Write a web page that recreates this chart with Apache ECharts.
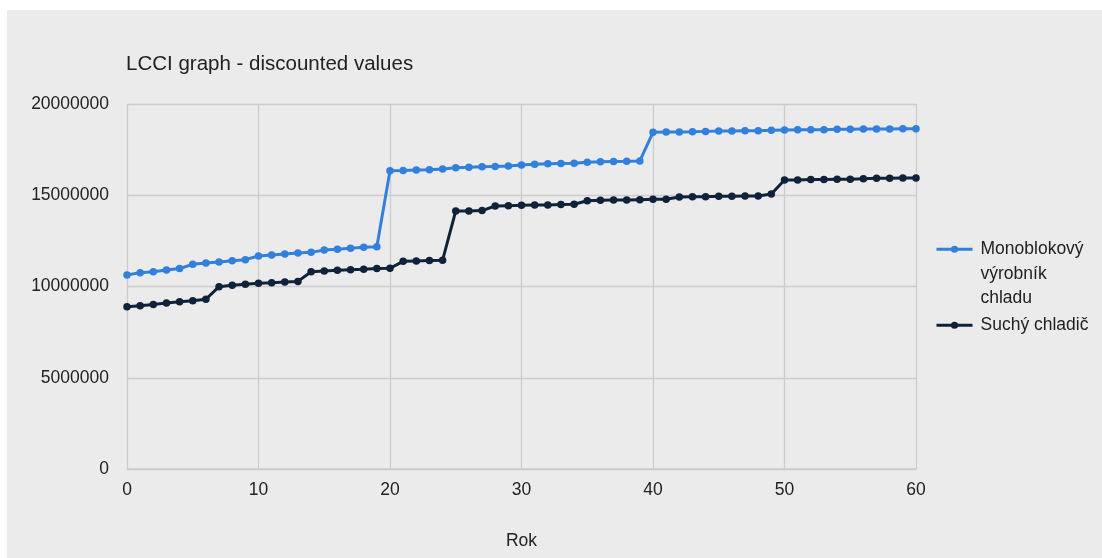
<!DOCTYPE html>
<html>
<head>
<meta charset="utf-8">
<title>LCCI graph - discounted values</title>
<script src="https://cdn.jsdelivr.net/npm/echarts@6/dist/echarts.min.js"></script>
<style>
  html, body { margin: 0; padding: 0; background: #ffffff; }
  #chart { position: absolute; left: 7px; top: 10px; width: 1095px; height: 548px; background: #ebebeb; }
</style>
</head>
<body>
<div id="chart"></div>
<script>
// Years on the horizontal axis
const years = [
  0, 1, 2, 3, 4, 5, 6, 7, 8, 9,
  10, 11, 12, 13, 14, 15, 16, 17, 18, 19,
  20, 21, 22, 23, 24, 25, 26, 27, 28, 29,
  30, 31, 32, 33, 34, 35, 36, 37, 38, 39,
  40, 41, 42, 43, 44, 45, 46, 47, 48, 49,
  50, 51, 52, 53, 54, 55, 56, 57, 58, 59, 60
];

const seriesNames = ['Monoblokový výrobník chladu', 'Suchý chladič'];

// Cumulative discounted costs – monoblock chiller
const monoblok = [
  10630000, 10760000, 10810000, 10900000, 10980000, 11220000, 11290000, 11340000, 11410000, 11470000,
  11670000, 11730000, 11780000, 11840000, 11870000, 12000000, 12040000, 12090000, 12150000, 12180000,
  16340000, 16350000, 16380000, 16400000, 16440000, 16510000, 16530000, 16560000, 16580000, 16600000,
  16660000, 16700000, 16720000, 16740000, 16750000, 16810000, 16830000, 16850000, 16860000, 16880000,
  18450000, 18470000, 18470000, 18480000, 18500000, 18520000, 18520000, 18540000, 18540000, 18560000,
  18580000, 18590000, 18590000, 18590000, 18610000, 18610000, 18630000, 18630000, 18630000, 18650000, 18650000
];

// Cumulative discounted costs – dry cooler
const suchy = [
  8890000, 8950000, 9020000, 9100000, 9170000, 9220000, 9300000, 9990000, 10070000, 10120000,
  10180000, 10210000, 10250000, 10280000, 10810000, 10850000, 10890000, 10920000, 10940000, 10980000,
  11000000, 11380000, 11400000, 11420000, 11440000, 14140000, 14140000, 14160000, 14410000, 14430000,
  14450000, 14470000, 14470000, 14490000, 14510000, 14700000, 14720000, 14740000, 14740000, 14760000,
  14780000, 14780000, 14900000, 14920000, 14920000, 14940000, 14940000, 14960000, 14960000, 15070000,
  15840000, 15840000, 15860000, 15860000, 15870000, 15870000, 15910000, 15930000, 15930000, 15950000, 15950000
];

const xMin = 0, xMax = 60, xStep = 10;
const yMin = 0, yMax = 20000000, yStep = 5000000;

const FONT = '"Liberation Sans", Arial, sans-serif';
const TEXT = '#222222';
const GRID = '#cccccc';
const COLORS = ['#3180dc', '#0f2239'];

const pairs = (vals) => years.map((y, i) => [y, vals[i]]);

// Shared legend look; each series gets its own legend block so the wrapped
// label can keep its icon level with its first line.
const legendBase = {
  orient: 'vertical',
  left: 928,
  padding: 0,
  itemGap: 0,
  itemWidth: 36,
  itemHeight: 9,
  lineStyle: { width: 3 }
};
const legendText = { fontFamily: FONT, fontSize: 17.5, color: TEXT, lineHeight: 24.5, rich: {} };

const chart = echarts.init(document.getElementById('chart'), null, { renderer: 'canvas' });

chart.setOption({
  animation: false,
  textStyle: { fontFamily: FONT },
  color: COLORS,
  title: {
    text: 'LCCI graph - discounted values',
    left: 119,
    top: 44,
    padding: 0,
    textStyle: { fontFamily: FONT, fontSize: 20.5, fontWeight: 'normal', color: TEXT }
  },
  legend: [
    Object.assign({}, legendBase, {
      top: 178,
      data: [seriesNames[0]],
      formatter: () => 'Monoblokový\nvýrobník\nchladu',
      textStyle: Object.assign({}, legendText, { padding: [49, 0, 0, 3] })
    }),
    Object.assign({}, legendBase, {
      top: 303,
      data: [seriesNames[1]],
      textStyle: Object.assign({}, legendText, { padding: [0, 0, 0, 3] })
    })
  ],
  grid: {
    left: 120,
    top: 94,
    right: 186,
    bottom: 89,
    containLabel: false
  },
  xAxis: {
    type: 'value',
    min: xMin,
    max: xMax,
    interval: xStep,
    name: 'Rok',
    nameLocation: 'middle',
    nameGap: 63,
    nameTextStyle: { fontFamily: FONT, fontSize: 17.5, color: TEXT },
    axisLine: { show: true, lineStyle: { color: GRID, width: 1.5 } },
    axisTick: { show: false },
    axisLabel: { fontFamily: FONT, fontSize: 17.5, color: TEXT, margin: 12 },
    splitLine: { show: true, lineStyle: { color: GRID, width: 1.3 } }
  },
  yAxis: {
    type: 'value',
    min: yMin,
    max: yMax,
    interval: yStep,
    axisLine: { show: false },
    axisTick: { show: false },
    axisLabel: {
      fontFamily: FONT, fontSize: 17.5, color: TEXT, margin: 18,
      formatter: (v) => String(v)
    },
    splitLine: { show: true, lineStyle: { color: GRID, width: 1.3 } }
  },
  series: [
    {
      name: seriesNames[0],
      type: 'line',
      data: pairs(monoblok),
      symbol: 'circle',
      symbolSize: 7.5,
      showAllSymbol: true,
      lineStyle: { width: 3, color: COLORS[0] },
      itemStyle: { color: COLORS[0] },
      z: 3
    },
    {
      name: seriesNames[1],
      type: 'line',
      data: pairs(suchy),
      symbol: 'circle',
      symbolSize: 7.5,
      showAllSymbol: true,
      lineStyle: { width: 3, color: COLORS[1] },
      itemStyle: { color: COLORS[1] },
      z: 3
    }
  ]
});
</script>
</body>
</html>
